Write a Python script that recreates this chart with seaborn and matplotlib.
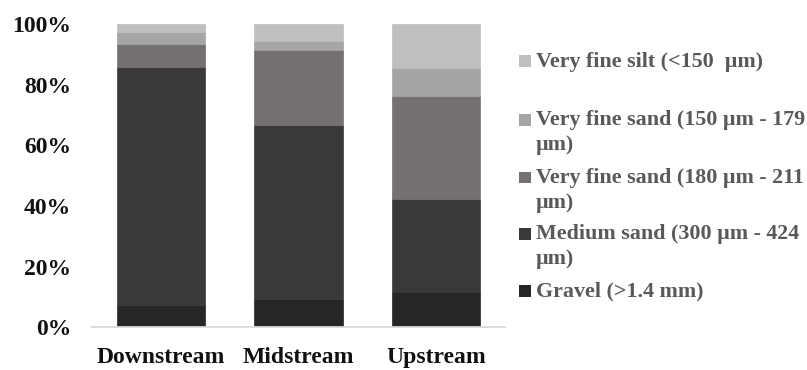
import numpy as np
import pandas as pd
import matplotlib
matplotlib.use("Agg")
import matplotlib.pyplot as plt
from matplotlib.patches import Rectangle
from matplotlib.ticker import PercentFormatter
import seaborn as sns

# Grain-size composition (fraction of sample) at each sampling reach
sites = ["Downstream", "Midstream", "Upstream"]
gravel = [0.075, 0.093, 0.118]
medium_sand = [0.783, 0.575, 0.304]
vf_sand_180_211 = [0.076, 0.246, 0.341]
vf_sand_150_179 = [0.040, 0.030, 0.091]
vf_silt = [0.026, 0.056, 0.146]

classes = [
    "Gravel (>1.4 mm)",
    "Medium sand (300 µm - 424\nµm)",
    "Very fine sand (180 µm - 211\nµm)",
    "Very fine sand (150 µm - 179\nµm)",
    "Very fine silt (<150  µm)",
]
layers = [gravel, medium_sand, vf_sand_180_211, vf_sand_150_179, vf_silt]
colors = ["#262626", "#3b3838", "#767171", "#a5a5a5", "#bfbfbf"]

sns.set_theme(style="white")
plt.rcParams["font.family"] = ["Liberation Serif", "DejaVu Serif"]
plt.rcParams["font.weight"] = "bold"

fig = plt.figure(figsize=(8.07, 3.70), dpi=100)
ax = fig.add_axes([0.114, 0.1154, 0.5118, 0.8197])

bottom = np.zeros(len(sites))
for name, vals, col in zip(classes, layers, colors):
    df = pd.DataFrame({"site": sites, "share": vals})
    sns.barplot(data=df, x="site", y="share", order=sites, color=col,
                width=0.64, bottom=bottom, ax=ax, errorbar=None,
                saturation=1, edgecolor=col, linewidth=0.5)
    bottom = bottom + np.array(vals)

ax.set_xlim(-0.5, 2.5)
ax.set_ylim(0, 1)
ax.set_yticks(np.arange(0, 1.01, 0.2))
ax.yaxis.set_major_formatter(PercentFormatter(1.0, decimals=0))
ax.set_xlabel("")
ax.set_ylabel("")
for side in ["top", "right", "left"]:
    ax.spines[side].set_visible(False)
ax.spines["bottom"].set_color("#d9d9d9")
ax.spines["bottom"].set_linewidth(1.3)
ax.tick_params(axis="y", length=0, pad=15, labelsize=17, colors="#111111")
ax.tick_params(axis="x", length=0, pad=14.5, labelsize=17, colors="#111111")
for lbl in ax.get_xticklabels() + ax.get_yticklabels():
    lbl.set_fontweight("bold")

# Legend entries, listed top to bottom (lightest class first)
W, H = fig.get_size_inches() * fig.dpi
entry_rows = [61, 120, 178, 234, 291]
for row, name, col in zip(entry_rows, classes[::-1], colors[::-1]):
    fig.patches.append(Rectangle((519 / W, 1 - (row + 5.5) / H), 11.5 / W, 11.5 / H,
                                 transform=fig.transFigure, facecolor=col,
                                 edgecolor="none"))
    fig.text(536 / W, 1 - (row - 9.5) / H, name, ha="left", va="top",
             fontsize=15.8, fontweight="bold", color="#595959",
             linespacing=1.3)

fig.savefig("out.png", dpi=100)
